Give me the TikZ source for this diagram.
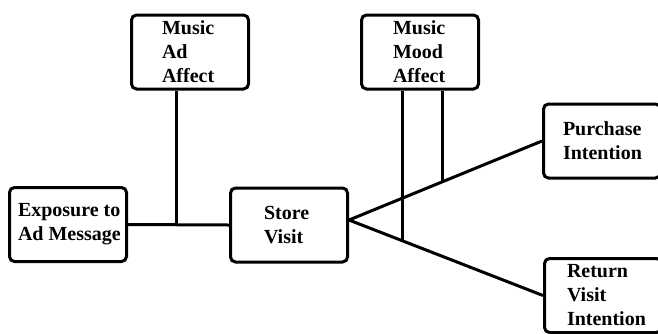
\documentclass[tikz,border=0pt]{standalone}
\usepackage{fontspec}
\setmainfont{Liberation Serif}
\usetikzlibrary{positioning,calc}

\begin{document}
\begin{tikzpicture}[x=1pt,y=-1pt,line width=3pt,
  font=\bfseries\fontsize{20}{24}\selectfont,
  box/.style={draw,rounded corners=5pt,minimum width=117pt,minimum height=74pt},
  lbl/.style={align=left,inner sep=0pt,anchor=west}]
\clip (0,0) rectangle (658,333);
% boxes
\node[box] (Exp) at (68,224.5){};
\node[box] (Store) at (289,225){};
\node[box] (MAA) at (190,52){};
\node[box] (MMA) at (420,52){};
\node[box] (Pur) at (602,141){};
\node[box] (Ret) at (603,295.5){};
% labels
\node[lbl] (ExpT) at ([xshift=8.5pt]Exp.west){Exposure to\\Ad Message};
\node[lbl] (StoreT) at ([xshift=33.5pt]Store.west){Store\\Visit};
\node[lbl] (MAAT) at ([xshift=30.5pt]MAA.west){Music\\Ad\\Affect};
\node[lbl] (MMAT) at ([xshift=31.5pt]MMA.west){Music\\Mood\\Affect};
\node[lbl] (PurT) at ([xshift=19.5pt]Pur.west){Purchase\\Intention};
\node[lbl] (RetT) at ([xshift=22.5pt]Ret.west){Return\\Visit\\Intention};
% ad exposure to store visit
\draw (Exp.east) -- (Store.west) coordinate[pos=0.48](J1);
\draw (J1 |- MAA.south) -- (J1);
% store visit to intentions
\coordinate (S) at ([yshift=5pt]Store.east);
\draw (S) -- (Pur.west) coordinate[pos=0.485](J2);
\draw (S) -- (Ret.west) coordinate[pos=0.278](J3);
\draw (J2 |- MMA.south) -- (J2);
\draw (J3 |- MMA.south) -- (J3);
\end{tikzpicture}
\end{document}
